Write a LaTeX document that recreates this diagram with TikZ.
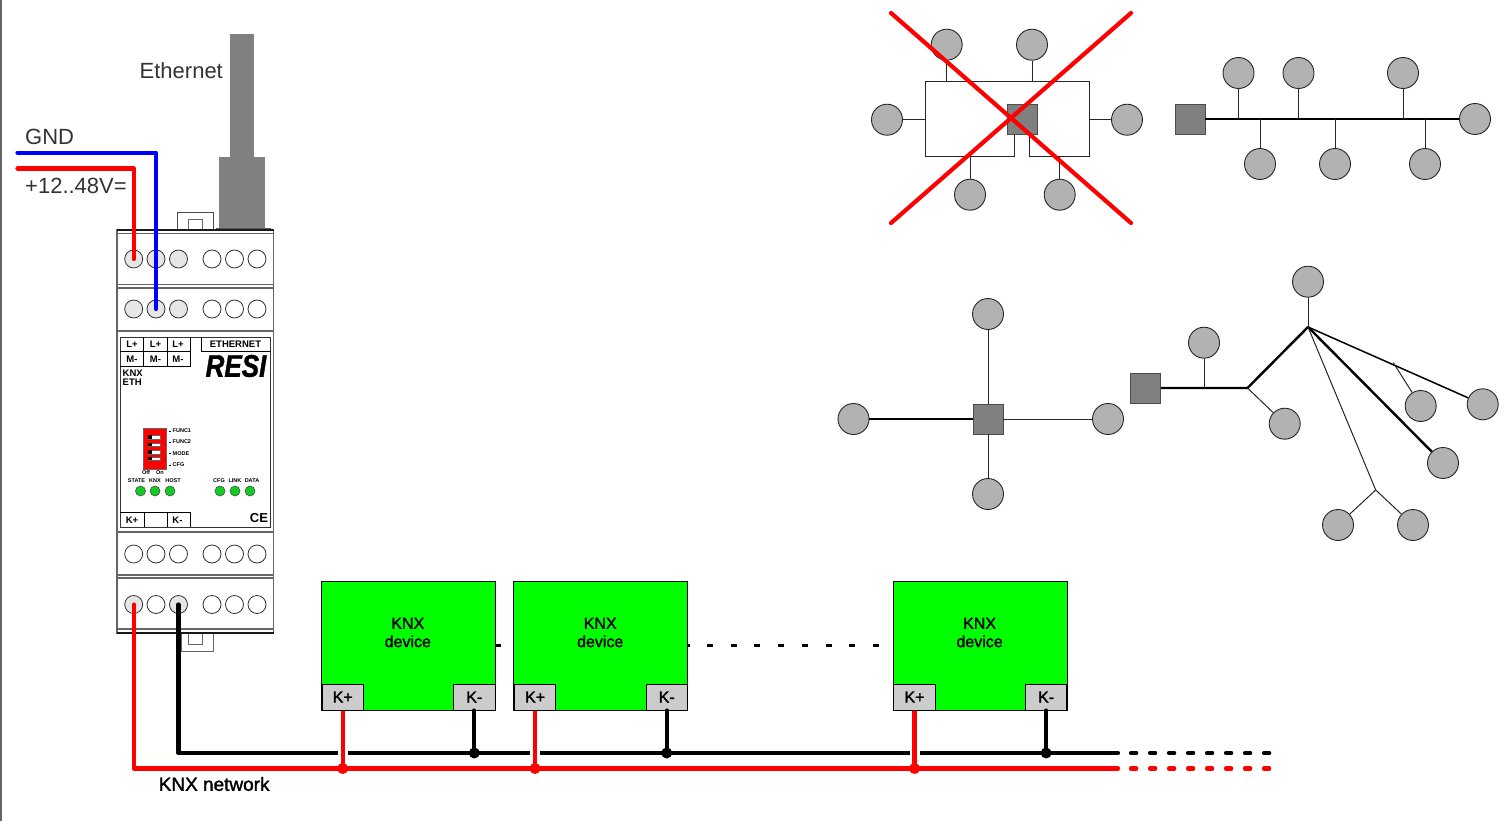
\documentclass[tikz,border=0pt]{standalone}
\usepackage{fontspec}
\setmainfont{Liberation Sans}
\newfontfamily\fatfont[FakeBold=1.6]{Liberation Sans}
\newfontfamily\logofont[BoldItalicFeatures={FakeBold=1.5,FakeStretch=1.04}]{Liberation Sans}
\usetikzlibrary{calc}
\definecolor{termgray}{HTML}{E6E6E6}
\definecolor{wirered}{HTML}{FF0000}
\definecolor{wireblue}{HTML}{0000FF}
\definecolor{ledgreen}{HTML}{11CC22}
\tikzset{
  term/.style={circle,draw=black!80,line width=.8pt,fill=white,minimum size=18pt,inner sep=0pt},
  termon/.style={term,fill=termgray},
  led/.style={circle,draw=black!70,line width=.6pt,fill=ledgreen,minimum size=10pt,inner sep=0pt},
  netnode/.style={circle,draw=black!85,line width=.9pt,fill=black!30,minimum size=31pt,inner sep=0pt},
  hub/.style={rectangle,draw=black!70,line width=.9pt,fill=black!50,minimum size=30pt,inner sep=0pt},
  thinlink/.style={black!85,line width=1pt},
  midlink/.style={black,line width=1.5pt},
  buslink/.style={black,line width=2.4pt},
  redw/.style={wirered,line width=4.2pt,line cap=round,line join=round},
  bluew/.style={wireblue,line width=4.2pt,line cap=round,line join=round},
  blackw/.style={black,line width=4.2pt,line cap=round,line join=round},
  tinyb/.style={font=\fontsize{5.5}{6}\selectfont\bfseries,inner sep=0pt,anchor=center},
  plate/.style={font=\fontsize{9.5}{10}\selectfont\bfseries,inner sep=0pt},
  casing/.style={black!60,line width=1.2pt},
  greybox/.style={draw=black,line width=.9pt,fill=black!20,inner sep=0pt,font=\fatfont\fontsize{16}{18}\selectfont},
}
\begin{document}
\begin{tikzpicture}[x=1pt,y=-1pt]
\useasboundingbox (0,0) rectangle (1512,821);
\fill[black!60] (0,0) rectangle (1.6,821);
% ethernet cable
\fill[black!50] (230,34) rectangle (253.5,158);
\fill[black!50] (219,157) rectangle (265,230);
\fill[black!65] (216,227.5) rectangle (270.5,230);
\node[inner sep=0pt,text=black!80,font=\fontsize{22}{24}\selectfont,anchor=west] (ethlabel) at (139.5,71) {Ethernet};
% clips
\draw[black!70,line width=.8pt,fill=white] (177.5,231) rectangle (213,212);
\draw[black!60,line width=.9pt,fill=white] (188.5,231) rectangle (202,219.5);
\draw[black!60,line width=.8pt,fill=white] (181,633) rectangle (213.5,651);
\draw[black!60,line width=.9pt,fill=white] (188.5,633) rectangle (202,644);
% casing
\draw[casing,fill=white] (117,230) rectangle (273.5,633);
\foreach \yy in {233.5,284.5,288,331,532,575,578,629}{\draw[casing] (117,\yy) -- (273.5,\yy);}
\draw[black!80,line width=.9pt] (120,337) rectangle (270.5,527);
\draw[black!90,line width=1.2pt] (117,230) -- (273.5,230);
\draw[black!90,line width=1.2pt] (117,633) -- (273.5,633);
% plate boxes
\draw[black,line width=.9pt] (120,351.5) -- (190,351.5) (190,337) -- (190,366) -- (120,366);
\draw[black,line width=.9pt] (143.5,337) -- (143.5,366) (167,337) -- (167,366);
\draw[black,line width=.9pt] (201.5,337) -- (201.5,351.5) -- (270.5,351.5);
\draw[black,line width=.9pt] (120,512) -- (190,512) -- (190,527) (144,512) -- (144,527) (167,512) -- (167,527);
\node[plate] (lp1) at (132,344) {L+};
\node[plate] (lp2) at (155.5,344) {L+};
\node[plate] (lp3) at (178,344) {L+};
\node[plate] (mm1) at (132,359) {M-};
\node[plate] (mm2) at (155.5,359) {M-};
\node[plate] (mm3) at (178,359) {M-};
\node[plate] (ethplate) at (235.5,344) {ETHERNET};
\node[plate,anchor=west] (knxl) at (122.5,373) {KNX};
\node[plate,anchor=west] (ethl) at (122.5,382) {ETH};
\node[plate] (kp) at (132,520) {K+};
\node[plate] (km) at (177.5,520) {K-};
\node[inner sep=0pt] (resi) at (236,366) {\scalebox{1}[1.25]{\logofont\fontsize{25}{26}\selectfont\bfseries\itshape RESI}};
\node[inner sep=0pt,font=\fontsize{13}{13}\selectfont\bfseries] (ce) at (259,518) {CE};
% dip switch
\fill[wirered,draw=black!60,line width=.5pt] (143,428) rectangle (166.5,469);
\foreach \yy in {437,444.5,452,458.5}{
  \draw[black!60,line width=.4pt,fill=white] (148,\yy-1.7) rectangle (160.5,\yy+1.7);
  \fill[black] (148,\yy-1.7) rectangle (152,\yy+1.7);}
\foreach \yy/\tt in {431/FUNC1,442/FUNC2,453.5/MODE,465/CFG}{
  \draw[black,line width=.6pt] (168.5,\yy) -- (171,\yy);
  \node[tinyb,anchor=west] at (172.5,\yy) {\tt};}
\node[tinyb] (off) at (146,472.5) {Off};
\node[tinyb] (on) at (160,472.5) {On};
\node[tinyb] (ls1) at (136.5,481) {STATE};
\node[tinyb] (ls2) at (155,481) {KNX};
\node[tinyb] (ls3) at (173,481) {HOST};
\node[tinyb] (ls4) at (219,481) {CFG};
\node[tinyb] (ls5) at (235,481) {LINK};
\node[tinyb] (ls6) at (252,481) {DATA};
\foreach \xx in {140.5,155,170,220,235,250}{\node[led] at (\xx,491) {};}
% terminals
\node[termon] (a1) at (133.7,259) {}; \node[termon] (a2) at (156,259) {}; \node[termon] (a3) at (178.5,259) {};
\node[termon] (b1) at (133.7,309) {}; \node[termon] (b2) at (156,309) {}; \node[termon] (b3) at (178.5,309) {};
\node[term] (c1) at (133.7,554) {}; \node[term] (c2) at (156,554) {}; \node[term] (c3) at (178.5,554) {};
\node[termon] (d1) at (133.7,604.5) {}; \node[term] (d2) at (156,604.5) {}; \node[termon] (d3) at (178.5,604.5) {};
\foreach \yy/\nn in {259/a,309/b,554/c,604.5/d}{
  \foreach \xx/\mm in {212/4,234.5/5,257/6}{\node[term] (\nn\mm) at (\xx,\yy) {};}}
% supply
\coordinate (gndstart) at (17.5,152.7);
\coordinate (vstart) at (17.5,168.5);
\draw[redw] (vstart) -- (a1.center |- vstart) -- (a1.center);
\draw[bluew] (gndstart) -- (b2.center |- gndstart) -- (b2.center);
\node[inner sep=0pt,text=black!80,font=\fontsize{22}{24}\selectfont,anchor=west] (gndl) at (25,137) {GND};
\node[inner sep=0pt,text=black!80,font=\fontsize{22}{24}\selectfont,anchor=west] (vl) at (25,186) {+12..48V=};
% KNX devices
\foreach \dx/\nm in {321.5/p,513.9/q,893.3/r}{
  \draw[black,line width=.9pt,fill=green] (\dx,581.5) rectangle ++(174,129);
  \node[greybox,minimum width=41.5pt,minimum height=26pt,anchor=south west] (\nm p) at (\dx,710.5) {K+};
  \node[greybox,minimum width=41.5pt,minimum height=26pt,anchor=south east] (\nm m) at (\dx+174,710.5) {K-};
  \node[inner sep=0pt,align=center,font=\fatfont\fontsize{16}{18.3}\selectfont] (\nm t) at (\dx+86.3,632.5) {KNX\\device};
}
% dotted link between devices
\coordinate (dota) at (495.5,645.5); \coordinate (dotb) at (501,645.5);
\draw[black,line width=2.6pt] (dota) -- (dotb);
\coordinate (dotc) at (687.5,645.5); \coordinate (dotd) at (690,645.5);
\draw[black,line width=2.6pt] (dotc) -- (dotd);
\coordinate (dote) at (707,645.5); \coordinate (dotf) at (880,645.5);
\draw[black,line width=2.6pt,dash pattern=on 6pt off 17.7pt] (dote) -- (dotf);
% network wires
\coordinate (blkend) at (1118,753);
\coordinate (redend) at (1118,768.5);
\coordinate (blkdash) at (1131,753); \coordinate (blkdashe) at (1271,753);
\coordinate (reddash) at (1131,768.5); \coordinate (reddashe) at (1271,768.5);
\draw[redw] (d1.center) -- (d1.center |- redend) -- (redend);
\draw[blackw] (d3.center) -- (d3.center |- blkend) -- (blkend);
\foreach \px in {pp,qp,rp}{\draw[white,line width=10pt] ($(\px.south |- blkend)$) ++(0,-2.2) -- ++(0,4.4);}
\foreach \mm in {pm,qm,rm}{
  \draw[blackw] (\mm.south) -- (\mm.south |- blkend);
  \fill[black] (\mm.south |- blkend) circle (5.5);}
\foreach \pp in {pp,qp,rp}{
  \draw[redw,line cap=butt] (\pp.south) -- (\pp.south |- redend);
  \fill[wirered] (\pp.south |- redend) circle (5.5);}
\draw[black,line width=4.2pt,line cap=round,dash pattern=on 5.2pt off 13.8pt] (blkdash) -- (blkdashe);
\draw[wirered,line width=4.2pt,line cap=round,dash pattern=on 5.2pt off 13.8pt] (reddash) -- (reddashe);
\node[inner sep=0pt,font=\fatfont\fontsize{19}{20}\selectfont,anchor=west] (netl) at (158.5,784) {KNX network};
% top star with cross
\node[netnode] (s1) at (946.7,44.7) {};
\node[netnode] (s2) at (1032,44.7) {};
\node[netnode] (s3) at (887,119.7) {};
\node[netnode] (s4) at (1127,119.7) {};
\node[netnode] (s5) at (970,194.7) {};
\node[netnode] (s6) at (1059.7,194.7) {};
\node[hub] (shub) at (1022,119.7) {};
\draw[thinlink] (1014.7,134.7) -- (1014.7,157) -- (925,157) -- (925,82) -- (1089.7,82) -- (1089.7,157) -- (1029.7,157) -- (1029.7,134.7);
\draw[thinlink] (s1) -- (s1 |- 0,82);
\draw[thinlink] (s2) -- (s2 |- 0,82);
\draw[thinlink] (s3) -- (925,119.7);
\draw[thinlink] (s4) -- (1089.7,119.7);
\draw[thinlink] (s5) -- (s5 |- 0,157);
\draw[thinlink] (s6) -- (s6 |- 0,157);
\coordinate (xa) at (891,13); \coordinate (xb) at (1131,223); \coordinate (xc) at (1131,13); \coordinate (xd) at (891,223);
\draw[redw] (xa) -- (xb);
\draw[redw] (xc) -- (xd);
% bus
\node[hub] (bhub) at (1190,119) {};
\node[netnode] (b_r) at (1475,119) {};
\node[netnode] (b_1) at (1238.5,73) {};
\node[netnode] (b_2) at (1298.5,73) {};
\node[netnode] (b_3) at (1403,73) {};
\node[netnode] (b_4) at (1260,164) {};
\node[netnode] (b_5) at (1335,164) {};
\node[netnode] (b_6) at (1425,164) {};
\draw[buslink] (bhub) -- (b_r);
\foreach \nn in {1,2,3}{\draw[thinlink] (b_\nn) -- (b_\nn |- bhub);}
\foreach \nn in {4,5,6}{\draw[thinlink] (b_\nn) -- (b_\nn |- bhub);}
% star
\node[hub] (chub) at (988,419) {};
\node[netnode] (c_u) at (988,314) {};
\node[netnode] (c_l) at (853.5,419) {};
\node[netnode] (c_r) at (1108,419) {};
\node[netnode] (c_d) at (988,494) {};
\draw[midlink] (chub) -- (c_l);
\draw[thinlink] (chub) -- (c_r);
\draw[thinlink] (chub) -- (c_u);
\draw[thinlink] (chub) -- (c_d);
% tree
\node[hub] (thub) at (1145.7,388) {};
\coordinate (tj) at (1247.5,388);
\coordinate (th) at (1308,327);
\coordinate (tk) at (1393.3,362.7);
\coordinate (tm) at (1375.7,490);
\coordinate (tb) at (1204,388);
\node[netnode] (t1) at (1204,342.7) {};
\node[netnode] (t2) at (1284.7,423.7) {};
\node[netnode] (t3) at (1308,281.7) {};
\node[netnode] (t4) at (1420.7,406) {};
\node[netnode] (t5) at (1482.7,404.3) {};
\node[netnode] (t6) at (1443,463) {};
\node[netnode] (t7) at (1338,525) {};
\node[netnode] (t8) at (1413,525) {};
\draw[buslink,line join=round] (thub) -- (tj) -- (th);
\draw[thinlink] (t1) -- (tb);
\draw[thinlink] (tj) -- (t2);
\draw[thinlink] (th) -- (t3);
\draw[midlink] (th) -- (t5);
\draw[thinlink] (tk) -- (t4);
\draw[black,line width=2.4pt] (th) -- (t6);
\draw[thinlink] (th) -- (tm);
\draw[thinlink] (tm) -- (t7);
\draw[thinlink] (tm) -- (t8);
\end{tikzpicture}
\end{document}
